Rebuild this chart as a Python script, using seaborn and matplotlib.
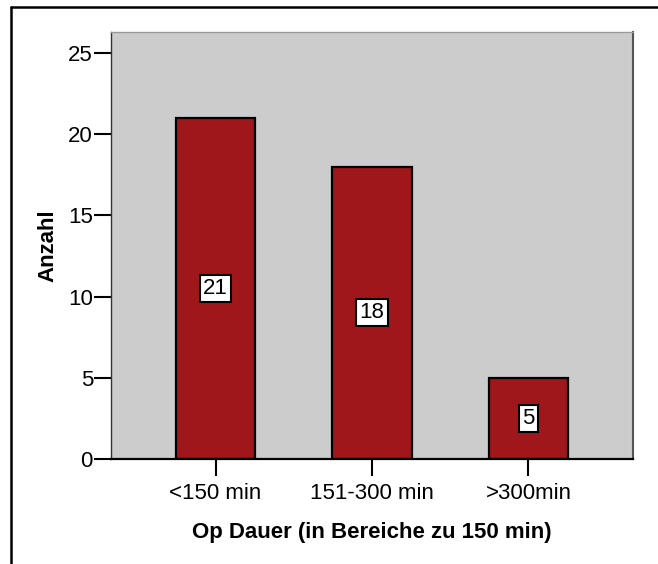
import matplotlib
matplotlib.use("Agg")
import matplotlib.pyplot as plt
import seaborn as sns
from matplotlib.lines import Line2D

categories = ["<150 min", "151-300 min", ">300min"]
counts = [21, 18, 5]
y_ticks = [0, 5, 10, 15, 20, 25]
x_label = "Op Dauer (in Bereiche zu 150 min)"
y_label = "Anzahl"

sns.set_theme(style="white")
plt.rcParams["font.family"] = ["Liberation Sans", "DejaVu Sans"]
plt.rcParams["text.color"] = "black"
plt.rcParams["axes.labelcolor"] = "black"
plt.rcParams["xtick.color"] = "black"
plt.rcParams["ytick.color"] = "black"

W, H = 658, 564
fig = plt.figure(figsize=(W / 100, H / 100), dpi=100)
ax = fig.add_axes([111 / W, 1 - 459 / H, (633 - 111) / W, (459 - 32) / H])
ax.set_facecolor("#CCCCCC")

sns.barplot(x=categories, y=counts, color="#A0171B", saturation=1, width=0.505,
            edgecolor="black", linewidth=1.6, ax=ax)

ax.set_xlim(-0.668, 2.668)
ax.set_ylim(0, 26.3)
ax.set_yticks(y_ticks)

for i, v in enumerate(counts):
    ax.text(i, v / 2, str(v), ha="center", va="center", fontsize=16, color="black",
            bbox=dict(boxstyle="square,pad=0.14", facecolor="white",
                      edgecolor="black", linewidth=1.5))

ax.tick_params(axis="both", which="both", length=12, width=1.5, color="black",
               labelcolor="black", labelsize=16, direction="out",
               left=True, bottom=True)
ax.tick_params(axis="y", pad=1)
ax.tick_params(axis="x", pad=5)
ax.set_xlabel(x_label, fontsize=16, fontweight="bold", labelpad=13, color="black")
ax.set_ylabel(y_label, fontsize=16, fontweight="bold", labelpad=7, color="black")

ax.spines["left"].set_color("#333333"); ax.spines["left"].set_linewidth(1.0)
ax.spines["top"].set_color("#999999"); ax.spines["top"].set_linewidth(1.0)
ax.spines["right"].set_color("#555555"); ax.spines["right"].set_linewidth(1.5)
ax.spines["bottom"].set_color("black"); ax.spines["bottom"].set_linewidth(1.6)
for s in ax.spines.values():
    s.set_visible(True)

# outer frame (top and left edges visible)
fig.add_artist(Line2D([11 / W, 11 / W], [0, 1 - 7 / H], color="black", lw=1.8,
                      transform=fig.transFigure))
fig.add_artist(Line2D([11 / W, 1], [1 - 7 / H, 1 - 7 / H], color="black", lw=1.8,
                      transform=fig.transFigure))

fig.savefig("out.png", dpi=100)
